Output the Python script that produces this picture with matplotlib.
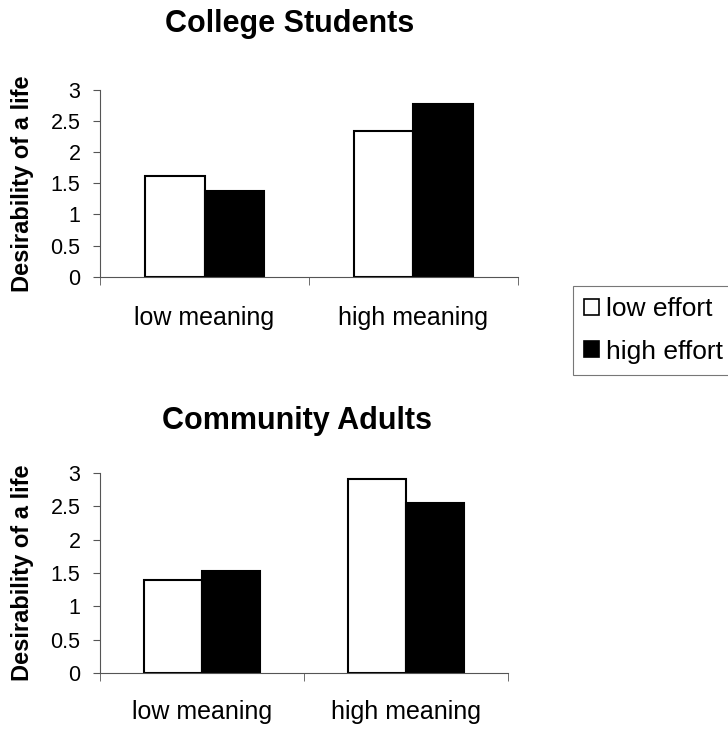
import numpy as np
import matplotlib.pyplot as plt
from matplotlib.patches import Patch

plt.rcParams['font.family'] = ['Liberation Sans', 'DejaVu Sans']

categories = ['low meaning', 'high meaning']
series = ['low effort', 'high effort']
college_low_effort = [1.62, 2.34]
college_high_effort = [1.37, 2.78]
adults_low_effort = [1.40, 2.90]
adults_high_effort = [1.53, 2.54]
yticks = [0, 0.5, 1, 1.5, 2, 2.5, 3]
ytick_labels = ['0', '0.5', '1', '1.5', '2', '2.5', '3']

fig = plt.figure(figsize=(7.28, 7.29), dpi=100)

def draw(ax, low, high, width, xpad, width_px):
    x = np.arange(len(categories))
    ax.bar(x - width / 2, low, width, color='white', edgecolor='black', linewidth=1.5)
    ax.bar(x + width / 2, high, width, color='black', edgecolor='black', linewidth=1.5)
    ax.set_xlim(-0.5, 1.5)
    ax.set_ylim(0, 3)
    ax.set_yticks(yticks)
    ax.set_yticklabels(ytick_labels, fontsize=15.5)
    ax.set_xticks(x)
    ax.set_xticklabels(categories, fontsize=18)
    ax.set_xticks([-0.5, 0.5, 1.5], minor=True)
    ax.tick_params(axis='x', which='major', length=0, pad=xpad)
    ax.tick_params(axis='x', which='minor', length=6, color='#555555', direction='out')
    ax.tick_params(axis='y', length=5, color='#555555', pad=9)
    for s in ['top', 'right']:
        ax.spines[s].set_visible(False)
    for s in ['left', 'bottom']:
        ax.spines[s].set_color('#555555')
        ax.spines[s].set_linewidth(0.8)
    ax.set_ylabel('Desirability of a life', fontsize=17, fontweight='bold', va='center')
    # label centre about 22 px from the left edge of the figure
    ax.yaxis.set_label_coords((22 - 100) / width_px, 0.5)

ax1 = fig.add_axes([100 / 728, 0.6205, 418 / 728, 0.256])
draw(ax1, college_low_effort, college_high_effort, 0.287, 21, 418)

ax2 = fig.add_axes([100 / 728, 0.0764, 408 / 728, 0.2752])
draw(ax2, adults_low_effort, adults_high_effort, 0.284, 19, 408)

fig.text(290 / 728, 1 - 24 / 729, 'College Students', fontsize=22, fontweight='bold',
         ha='center', va='center')
fig.text(297 / 728, 1 - 421 / 729, 'Community Adults', fontsize=22, fontweight='bold',
         ha='center', va='center')

handles = [Patch(facecolor='white', edgecolor='black', linewidth=1.2),
           Patch(facecolor='black', edgecolor='black', linewidth=1.2)]
leg = fig.legend(handles, series, loc='upper left', bbox_to_anchor=(573 / 728, 1 - 286 / 729),
                 fontsize=19, frameon=True, fancybox=False, handlelength=0.57, handleheight=0.57,
                 handletextpad=0.25, borderpad=0.42, labelspacing=0.7, borderaxespad=0)
leg.get_frame().set_edgecolor('#555555')
leg.get_frame().set_linewidth(0.8)

plt.savefig('out.png', dpi=100)
